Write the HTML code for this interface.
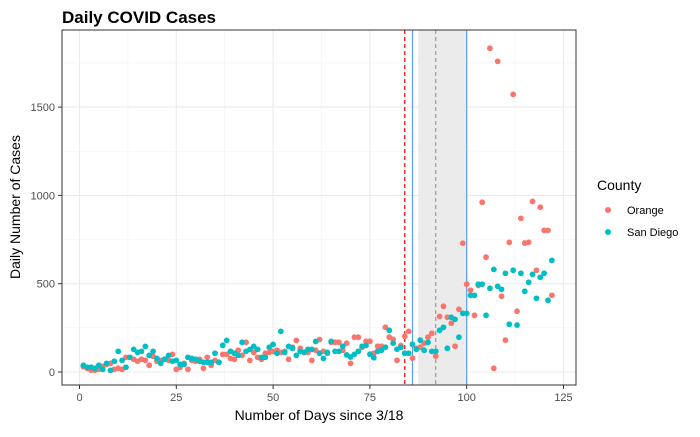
<!DOCTYPE html>
<html><head><meta charset="utf-8"><style>
body{margin:0;background:#fff;font-family:"Liberation Sans",sans-serif}
</style></head><body>
<svg id="chart" width="700" height="432" xmlns="http://www.w3.org/2000/svg" font-family="Liberation Sans, sans-serif">
<text x="62" y="23" font-size="17" font-weight="bold" fill="#000">Daily COVID Cases</text>
<g id="grid"></g>
<g id="bands"></g>
<g id="pts"></g>
<rect x="62" y="30" width="514" height="355" fill="none" stroke="#333" stroke-width="1"/>
<g id="axes" font-size="11" fill="#4d4d4d"></g>
<text x="319" y="420" font-size="14" text-anchor="middle" fill="#000">Number of Days since 3/18</text>
<text transform="translate(20,207) rotate(-90)" font-size="14" text-anchor="middle" fill="#000">Daily Number of Cases</text>
<g>
<text x="597" y="190" font-size="14" fill="#000">County</text>
<circle cx="608" cy="210" r="3" fill="#F8766D"/>
<text x="627" y="214" font-size="11" fill="#000">Orange</text>
<circle cx="608" cy="232" r="3" fill="#00BFC4"/>
<text x="627" y="236" font-size="11" fill="#000">San Diego</text>
</g>
</svg>
<script>
const xTicks=[0,25,50,75,100,125];
const yTicks=[0,500,1000,1500];
const orange=[30,21,10,10,15,32,43,49,15,21,15,83,83,72,61,72,66,38,89,61,66,72,66,100,15,27,49,15,66,61,72,21,83,38,66,55,100,100,77,72,123,94,168,66,111,83,72,106,111,117,123,111,117,72,140,179,134,111,111,66,123,184,117,106,168,168,168,123,163,49,197,197,140,174,174,106,146,146,253,197,185,66,150,202,230,78,134,140,163,197,219,90,315,372,310,276,146,355,729,497,463,321,490,961,650,1833,21,1759,429,180,734,1572,344,870,730,734,966,576,933,802,802,434];
const sandiego=[38,27,27,21,38,15,49,9,61,117,66,27,83,128,111,117,145,94,117,77,49,72,94,61,66,43,43,83,77,72,61,55,55,55,106,55,151,179,117,106,94,168,117,128,145,128,83,83,140,156,106,230,111,145,134,94,117,111,128,128,173,106,77,111,173,117,117,146,97,85,100,117,146,150,101,81,117,123,140,236,163,129,140,106,106,157,129,180,123,168,117,117,236,253,134,310,298,197,332,332,434,434,497,497,321,474,581,485,468,559,270,576,266,559,457,508,553,417,536,559,406,632];
const events=[{d:84,c:"#FF0000",dash:"4,3",n:"red-dashed-line"},{d:86,c:"#5B9BF0",dash:"",n:"blue-line-start"},{d:92,c:"#999",dash:"4,3",n:"dashed-line-mid"},{d:100,c:"#5B9BF0",dash:"",n:"blue-line-end"}];
const NS="http://www.w3.org/2000/svg";
const X=d=>79.5+d*3.872, Y=v=>372-v*0.1766;
function mk(t,a,p){const e=document.createElementNS(NS,t);for(const k in a)e.setAttribute(k,a[k]);p.appendChild(e);return e;}
const grid=document.getElementById('grid'),bands=document.getElementById('bands'),pts=document.getElementById('pts'),axes=document.getElementById('axes');
for(let i=0;i<xTicks.length;i++){const t=xTicks[i];
 const g=mk('line',{x1:X(t),x2:X(t),y1:30,y2:385,stroke:'#ebebeb','stroke-width':1.1},grid);
 
 if(i<xTicks.length-1){const m=mk('line',{x1:X(t+12.5),x2:X(t+12.5),y1:30,y2:385,stroke:'#f3f3f3','stroke-width':0.6},grid);
 }
 const tk=mk('line',{x1:X(t),x2:X(t),y1:385,y2:389,stroke:'#333'},axes);
 
 const lb=mk('text',{x:X(t),y:401,'text-anchor':'middle'},axes);lb.textContent=t;
 }
for(let i=0;i<yTicks.length;i++){const t=yTicks[i];
 const g=mk('line',{x1:62,x2:576,y1:Y(t),y2:Y(t),stroke:'#ebebeb','stroke-width':1.1},grid);
 
 const m=mk('line',{x1:62,x2:576,y1:Y(t+250),y2:Y(t+250),stroke:'#f3f3f3','stroke-width':0.6},grid);
 
 const tk=mk('line',{x1:58,x2:62,y1:Y(t),y2:Y(t),stroke:'#333'},axes);
 
 const lb=mk('text',{x:55,y:Y(t)+4,'text-anchor':'end'},axes);lb.textContent=t;
 }
const sh=mk('rect',{x:X(87.5),y:30,width:X(100)-X(87.5),height:355,fill:'#ebebeb'},bands);

events.forEach(ev=>{const l=mk('line',{x1:X(ev.d),x2:X(ev.d),y1:30,y2:385,stroke:ev.c,'stroke-width':1.2,'stroke-dasharray':ev.dash},bands);
 });
orange.forEach((v,i)=>{const c=mk('circle',{cx:X(i+1),cy:Y(v),r:2.9,fill:'#F8766D'},pts);
 });
sandiego.forEach((v,i)=>{const c=mk('circle',{cx:X(i+1),cy:Y(v),r:2.9,fill:'#00BFC4'},pts);
 });
</script>
</body></html>
